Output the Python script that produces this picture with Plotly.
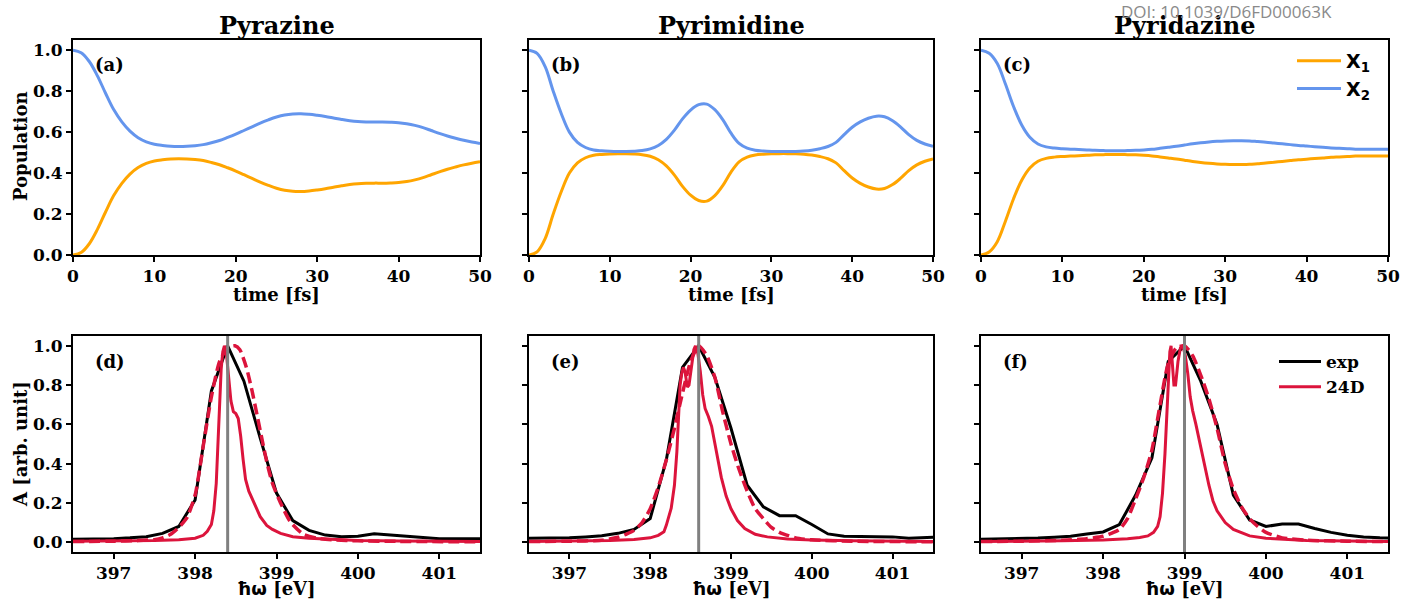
import plotly.graph_objects as go
from plotly.subplots import make_subplots

W, H = 1403, 599

# ---------------- data: populations (time in fs) ----------------
T = list(range(0, 51))

X1_PYRAZINE = [0.000, 0.012, 0.055, 0.125, 0.210, 0.290, 0.350, 0.395, 0.427, 0.447,
               0.459, 0.465, 0.469, 0.470, 0.469, 0.466, 0.461, 0.452, 0.441, 0.426,
               0.410, 0.392, 0.374, 0.356, 0.340, 0.326, 0.316, 0.311, 0.310, 0.313,
               0.318, 0.324, 0.331, 0.338, 0.344, 0.348, 0.350, 0.351, 0.351, 0.352,
               0.354, 0.359, 0.367, 0.378, 0.392, 0.406, 0.419, 0.430, 0.440, 0.448,
               0.455]
X2_PYRAZINE = [1.000, 0.988, 0.945, 0.875, 0.790, 0.710, 0.650, 0.605, 0.573, 0.553,
               0.541, 0.535, 0.531, 0.530, 0.531, 0.534, 0.539, 0.548, 0.559, 0.574,
               0.590, 0.608, 0.626, 0.644, 0.660, 0.674, 0.684, 0.689, 0.690, 0.687,
               0.682, 0.676, 0.669, 0.662, 0.656, 0.652, 0.650, 0.649, 0.649, 0.648,
               0.646, 0.641, 0.633, 0.622, 0.608, 0.594, 0.581, 0.570, 0.560, 0.552,
               0.545]

X1_PYRIMIDINE = [0.000, 0.015, 0.080, 0.200, 0.310, 0.400, 0.450, 0.475, 0.487, 0.491,
                 0.493, 0.494, 0.494, 0.493, 0.490, 0.482, 0.465, 0.435, 0.390, 0.335,
                 0.292, 0.266, 0.263, 0.290, 0.340, 0.405, 0.455, 0.478, 0.488, 0.492,
                 0.494, 0.495, 0.495, 0.494, 0.492, 0.488, 0.481, 0.470, 0.450, 0.412,
                 0.376, 0.350, 0.332, 0.322, 0.325, 0.344, 0.375, 0.412, 0.440, 0.458,
                 0.469]
X2_PYRIMIDINE = [1.000, 0.985, 0.920, 0.800, 0.690, 0.600, 0.550, 0.525, 0.513, 0.509,
                 0.507, 0.506, 0.506, 0.507, 0.510, 0.518, 0.535, 0.565, 0.610, 0.665,
                 0.708, 0.734, 0.737, 0.710, 0.660, 0.595, 0.545, 0.522, 0.512, 0.508,
                 0.506, 0.505, 0.505, 0.506, 0.508, 0.512, 0.519, 0.530, 0.550, 0.588,
                 0.624, 0.650, 0.668, 0.678, 0.675, 0.656, 0.625, 0.588, 0.560, 0.542,
                 0.531]

X1_PYRIDAZINE = [0.000, 0.015, 0.065, 0.165, 0.275, 0.365, 0.425, 0.458, 0.472, 0.478,
                 0.481, 0.483, 0.485, 0.487, 0.489, 0.490, 0.491, 0.491, 0.490, 0.489,
                 0.487, 0.484, 0.479, 0.474, 0.469, 0.463, 0.457, 0.452, 0.448, 0.445,
                 0.443, 0.442, 0.442, 0.443, 0.446, 0.449, 0.453, 0.457, 0.461, 0.465,
                 0.468, 0.471, 0.474, 0.477, 0.479, 0.481, 0.483, 0.484, 0.484, 0.484,
                 0.483]
X2_PYRIDAZINE = [1.000, 0.985, 0.935, 0.835, 0.725, 0.635, 0.575, 0.542, 0.528, 0.522,
                 0.519, 0.517, 0.515, 0.513, 0.511, 0.510, 0.509, 0.509, 0.510, 0.511,
                 0.513, 0.516, 0.521, 0.526, 0.531, 0.537, 0.543, 0.548, 0.552, 0.555,
                 0.557, 0.558, 0.558, 0.557, 0.554, 0.551, 0.547, 0.543, 0.539, 0.535,
                 0.532, 0.529, 0.526, 0.523, 0.521, 0.519, 0.517, 0.516, 0.516, 0.516,
                 0.517]

# ---------------- data: spectra (energy in eV) ----------------
E_EXP = [396.4, 396.6, 396.8, 397.0, 397.2, 397.4, 397.6, 397.8, 398.0, 398.2,
         398.4, 398.6, 398.8, 399.0, 399.2, 399.4, 399.6, 399.8, 400.0, 400.2,
         400.4, 400.6, 400.8, 401.0, 401.2, 401.4, 401.6]
EXP_PYRAZINE = [0.014, 0.015, 0.016, 0.018, 0.022, 0.028, 0.045, 0.080, 0.215, 0.770,
                1.000, 0.820, 0.530, 0.250, 0.110, 0.060, 0.036, 0.028, 0.030, 0.043,
                0.036, 0.030, 0.022, 0.018, 0.017, 0.017, 0.017]
EXP_PYRIMIDINE = [0.019, 0.019, 0.020, 0.022, 0.027, 0.033, 0.045, 0.065, 0.120, 0.420,
                  0.890, 1.000, 0.840, 0.580, 0.290, 0.180, 0.135, 0.135, 0.090, 0.042,
                  0.030, 0.028, 0.027, 0.027, 0.020, 0.025, 0.027]
EXP_PYRIDAZINE = [0.014, 0.015, 0.016, 0.018, 0.021, 0.025, 0.030, 0.042, 0.052, 0.090,
                  0.240, 0.430, 0.920, 1.000, 0.820, 0.600, 0.240, 0.113, 0.080, 0.092,
                  0.092, 0.070, 0.050, 0.035, 0.026, 0.022, 0.020]

# 24D, broadened (dashed)
E_BR_PYRAZINE = [396.5, 397.0, 397.3, 397.5, 397.6, 397.7, 397.8, 397.9, 398.0, 398.1,
                 398.2, 398.3, 398.4, 398.49, 398.55, 398.63, 398.7, 398.75, 398.88, 398.95,
                 399.05, 399.17, 399.33, 399.5, 399.7, 400.0, 400.5, 401.5]
BR_PYRAZINE = [0.003, 0.005, 0.008, 0.013, 0.022, 0.040, 0.075, 0.125, 0.240, 0.490,
               0.740, 0.920, 0.990, 1.000, 0.980, 0.890, 0.770, 0.670, 0.410, 0.300,
               0.200, 0.104, 0.040, 0.020, 0.012, 0.007, 0.004, 0.002]
E_BR_PYRIMIDINE = [396.5, 397.0, 397.4, 397.6, 397.7, 397.8, 397.9, 398.0, 398.1, 398.2,
                   398.3, 398.4, 398.5, 398.6, 398.7, 398.8, 398.9, 399.0, 399.1, 399.2,
                   399.3, 399.4, 399.5, 399.6, 399.8, 400.0, 400.5, 401.5]
BR_PYRIMIDINE = [0.003, 0.005, 0.010, 0.025, 0.040, 0.060, 0.100, 0.170, 0.280, 0.420,
                 0.580, 0.760, 0.920, 1.000, 0.950, 0.840, 0.660, 0.500, 0.370, 0.260,
                 0.170, 0.120, 0.075, 0.050, 0.022, 0.012, 0.005, 0.002]
E_BR_PYRIDAZINE = [396.5, 397.0, 397.5, 397.8, 398.0, 398.1, 398.2, 398.3, 398.4, 398.5,
                   398.6, 398.7, 398.8, 398.9, 399.0, 399.1, 399.2, 399.3, 399.4, 399.5,
                   399.6, 399.7, 399.8, 399.9, 400.0, 400.2, 400.5, 401.0, 401.5]
BR_PYRIDAZINE = [0.003, 0.005, 0.010, 0.018, 0.030, 0.045, 0.065, 0.120, 0.220, 0.330,
                 0.470, 0.700, 0.910, 0.990, 1.000, 0.950, 0.850, 0.730, 0.580, 0.400,
                 0.270, 0.180, 0.120, 0.080, 0.050, 0.022, 0.010, 0.005, 0.003]

# 24D, stick-like (solid)
E_SH_PYRAZINE = [396.5, 397.0, 397.5, 397.8, 398.0, 398.1, 398.15, 398.2, 398.23, 398.26,
                 398.28, 398.3, 398.32, 398.34, 398.36, 398.38, 398.41, 398.44, 398.47, 398.5,
                 398.53, 398.56, 398.59, 398.62, 398.66, 398.7, 398.75, 398.8, 398.88, 398.95,
                 399.05, 399.2, 399.4, 399.7, 400.0, 400.5, 401.0, 401.5]
SH_PYRAZINE = [0.005, 0.006, 0.008, 0.012, 0.020, 0.035, 0.055, 0.090, 0.160, 0.300,
               0.500, 0.720, 0.880, 0.970, 1.000, 0.980, 0.850, 0.720, 0.665, 0.655,
               0.630, 0.540, 0.420, 0.320, 0.260, 0.220, 0.170, 0.130, 0.085, 0.065,
               0.045, 0.028, 0.020, 0.013, 0.009, 0.006, 0.005, 0.004]
E_SH_PYRIMIDINE = [396.5, 397.0, 397.5, 397.8, 398.0, 398.1, 398.17, 398.2, 398.26, 398.3,
                   398.33, 398.35, 398.37, 398.39, 398.41, 398.43, 398.46, 398.48, 398.51, 398.54,
                   398.56, 398.59, 398.62, 398.65, 398.68, 398.72, 398.76, 398.8, 398.84, 398.88,
                   398.94, 399.0, 399.08, 399.17, 399.3, 399.45, 399.7, 400.0, 400.5, 401.0,
                   401.5]
SH_PYRIMIDINE = [0.004, 0.006, 0.009, 0.014, 0.022, 0.035, 0.053, 0.087, 0.173, 0.290,
                 0.460, 0.630, 0.800, 0.860, 0.890, 0.870, 0.790, 0.800, 0.900, 0.980,
                 1.000, 0.960, 0.870, 0.750, 0.680, 0.640, 0.590, 0.500, 0.410, 0.330,
                 0.235, 0.170, 0.110, 0.070, 0.040, 0.027, 0.016, 0.011, 0.007, 0.005,
                 0.004]
E_SH_PYRIDAZINE = [396.5, 397.0, 397.5, 398.0, 398.3, 398.45, 398.55, 398.62, 398.67, 398.7,
                   398.73, 398.76, 398.78, 398.8, 398.82, 398.835, 398.85, 398.87, 398.89, 398.92,
                   398.95, 398.98, 399.01, 399.04, 399.07, 399.1, 399.14, 399.18, 399.22, 399.26,
                   399.3, 399.35, 399.4, 399.5, 399.6, 399.8, 400.0, 400.5, 401.0, 401.5]
SH_PYRIDAZINE = [0.004, 0.005, 0.007, 0.011, 0.017, 0.024, 0.032, 0.050, 0.080, 0.130,
                 0.250, 0.450, 0.650, 0.820, 0.970, 1.000, 0.930, 0.800, 0.800, 0.920,
                 0.990, 1.000, 0.950, 0.860, 0.740, 0.670, 0.600, 0.520, 0.440, 0.360,
                 0.290, 0.210, 0.160, 0.100, 0.065, 0.032, 0.020, 0.009, 0.006, 0.004]

VLINE_E = [398.4, 398.6, 399.0]
TITLES = ["Pyrazine", "Pyrimidine", "Pyridazine"]
TOP_LABELS = ["(a)", "(b)", "(c)"]
BOT_LABELS = ["(d)", "(e)", "(f)"]
TIME_TICKS = [0, 10, 20, 30, 40, 50]
POP_TICKS = [0.0, 0.2, 0.4, 0.6, 0.8, 1.0]
E_TICKS = [397, 398, 399, 400, 401]

ORANGE = "#FFA500"
BLUE = "#6495ED"
RED = "#DC143C"
GRAY = "#808080"

SERIF = "DejaVu Serif"
SANS = "DejaVu Sans"

# ---------------- layout geometry (pixels) ----------------
XDOM_PX = [(73, 480), (529, 933), (981, 1388)]
TOP_PX = (40, 255)
BOT_PX = (336, 552)


def xd(a, b):
    return [a / W, b / W]


def yd(top, bot):
    return [1 - bot / H, 1 - top / H]


fig = make_subplots(rows=2, cols=3)

pops = [(X1_PYRAZINE, X2_PYRAZINE), (X1_PYRIMIDINE, X2_PYRIMIDINE),
        (X1_PYRIDAZINE, X2_PYRIDAZINE)]
for c, (x1, x2) in enumerate(pops):
    show = c == 2
    fig.add_trace(go.Scatter(x=T, y=x1, mode="lines", line=dict(color=ORANGE, width=3, shape="spline"),
                             name="X<sub>1</sub>", showlegend=show, legend="legend", legendgroup="a"),
                  row=1, col=c + 1)
    fig.add_trace(go.Scatter(x=T, y=x2, mode="lines", line=dict(color=BLUE, width=3, shape="spline"),
                             name="X<sub>2</sub>", showlegend=show, legend="legend", legendgroup="b"),
                  row=1, col=c + 1)

spectra = [
    (EXP_PYRAZINE, E_BR_PYRAZINE, BR_PYRAZINE, E_SH_PYRAZINE, SH_PYRAZINE),
    (EXP_PYRIMIDINE, E_BR_PYRIMIDINE, BR_PYRIMIDINE, E_SH_PYRIMIDINE, SH_PYRIMIDINE),
    (EXP_PYRIDAZINE, E_BR_PYRIDAZINE, BR_PYRIDAZINE, E_SH_PYRIDAZINE, SH_PYRIDAZINE),
]
for c, (ex, ebr, br, esh, sh) in enumerate(spectra):
    show = c == 2
    fig.add_trace(go.Scatter(x=E_EXP, y=ex, mode="lines", line=dict(color="black", width=3),
                             name="exp", showlegend=show, legend="legend2", legendgroup="c"),
                  row=2, col=c + 1)
    fig.add_trace(go.Scatter(x=esh, y=sh, mode="lines", line=dict(color=RED, width=3),
                             name="24D", showlegend=show, legend="legend2", legendgroup="d"),
                  row=2, col=c + 1)
    fig.add_trace(go.Scatter(x=ebr, y=br, mode="lines",
                             line=dict(color=RED, width=3.5, dash="11px,5px", shape="spline", smoothing=0.6),
                             showlegend=False),
                  row=2, col=c + 1)
    fig.add_vline(x=VLINE_E[c], line=dict(color=GRAY, width=3), row=2, col=c + 1, layer="above")

tickfont = dict(family=SERIF, size=17, color="black", weight="bold")
base = dict(showline=True, linecolor="black", linewidth=2, mirror=True, ticks="outside",
            ticklen=5, tickwidth=1.5, tickcolor="black", showgrid=False, zeroline=False,
            tickfont=tickfont, automargin=False)

for c in range(3):
    i = c + 1
    j = c + 4
    fig.update_layout({
        f"xaxis{'' if i == 1 else i}": dict(base, domain=xd(*XDOM_PX[c]), range=[0, 50],
                                            tickvals=TIME_TICKS),
        f"yaxis{'' if i == 1 else i}": dict(base, domain=yd(*TOP_PX), range=[0, 1.05],
                                            tickvals=POP_TICKS, tickformat=".1f",
                                            showticklabels=(c == 0)),
        f"xaxis{j}": dict(base, domain=xd(*XDOM_PX[c]), range=[396.5, 401.5], tickvals=E_TICKS),
        f"yaxis{j}": dict(base, domain=yd(*BOT_PX), range=[-0.05, 1.05],
                          tickvals=POP_TICKS, tickformat=".1f", showticklabels=(c == 0)),
    })

ann = []


def text(s, px, py, size, family=SERIF, weight="bold", color="black", angle=0, xanchor="center"):
    ann.append(dict(text=s, x=px / W, y=1 - py / H, xref="paper", yref="paper", showarrow=False,
                    xanchor=xanchor, yanchor="middle", textangle=angle,
                    font=dict(family=family, size=size, color=color, weight=weight)))


for c in range(3):
    a, b = XDOM_PX[c]
    cx = (a + b) / 2
    text(TITLES[c], cx, 25, 24)
    text("time [fs]", cx, 294, 18)
    text("<span style=\"font-family:'DejaVu Sans'\">ħω</span> [eV]", cx, 588, 18)
    text(TOP_LABELS[c], a + 20, 64, 18, xanchor="left")
    text(BOT_LABELS[c], a + 20, 361, 18, xanchor="left")

text("Population", 20, 147, 18, angle=-90)
text("A [arb. unit]", 20, 444, 18, angle=-90)
text("DOI: 10.1039/D6FD00063K", 1226, 11, 17, family="Open Sans", weight="normal", color="#8a8a8a")

fig.update_layout(
    width=W, height=H, margin=dict(l=0, r=0, t=0, b=0),
    paper_bgcolor="white", plot_bgcolor="white",
    annotations=ann,
    legend=dict(x=1292 / W, y=1 - 42 / H, xanchor="left", yanchor="top", bgcolor="rgba(0,0,0,0)",
                font=dict(family=SANS, size=19, color="black", weight="bold"),
                tracegroupgap=0, itemwidth=44),
    legend2=dict(x=1274 / W, y=1 - 344 / H, xanchor="left", yanchor="top", bgcolor="rgba(0,0,0,0)",
                 font=dict(family=SERIF, size=17, color="black", weight="bold"),
                 tracegroupgap=0, itemwidth=42),
)

fig.write_html("out.html", config={"displayModeBar": False},
               post_script="document.body.style.margin='0';document.body.style.padding='0';")
